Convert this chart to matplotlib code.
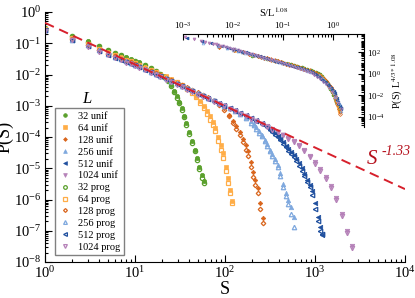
import numpy as np
import matplotlib
matplotlib.use("Agg")
import matplotlib.pyplot as plt
from matplotlib.ticker import LogLocator, NullFormatter, FixedLocator

plt.rcParams['font.family'] = ['Liberation Serif', 'DejaVu Serif']
plt.rcParams['mathtext.fontset'] = 'stix'

# ---------------- data ----------------
L_values = [32, 64, 128, 256, 512, 1024]

S32 = [1,2,3,4,5,6,7,8,9,10,11,13,15,17,19,21,23,25,27,29,31,33,35,37,40,43,46,49,52,55,58]
logP32_unif = [-0.50,-0.77,-0.93,-1.09,-1.21,-1.30,-1.38,-1.45,-1.51,-1.56,-1.61,-1.70,-1.79,-1.88,-1.97,
               -2.06,-2.18,-2.34,-2.52,-2.70,-2.88,-3.08,-3.32,-3.56,-3.84,-4.12,-4.40,-4.66,-4.95,-5.22,-5.42]
logP32_prog = [-0.52,-0.78,-0.95,-1.10,-1.22,-1.31,-1.39,-1.46,-1.52,-1.57,-1.62,-1.71,-1.80,-1.89,-1.98,
               -2.08,-2.21,-2.37,-2.55,-2.74,-2.92,-3.13,-3.37,-3.62,-3.90,-4.18,-4.46,-4.74,-5.02,-5.30,-5.46]

S64 = [1,2,3,4,5,6,7,8,9,10,11,13,15,17,19,22,25,29,33,38,43,48,53,58,63,68,73,78,84,90,96,102,108,114,120]
logP64_unif = [-0.53,-0.82,-1.01,-1.17,-1.29,-1.38,-1.45,-1.52,-1.57,-1.63,-1.68,-1.77,-1.85,-1.92,-1.98,
               -2.06,-2.14,-2.23,-2.32,-2.42,-2.53,-2.68,-2.84,-3.00,-3.17,-3.34,-3.52,-3.70,-4.00,-4.26,
               -4.52,-4.95,-5.32,-5.68,-6.05]
logP64_prog = [-0.54,-0.83,-1.02,-1.18,-1.30,-1.39,-1.46,-1.53,-1.58,-1.64,-1.69,-1.78,-1.86,-1.93,-2.00,
               -2.08,-2.16,-2.25,-2.35,-2.46,-2.58,-2.73,-2.90,-3.07,-3.25,-3.44,-3.62,-3.82,-4.12,-4.40,
               -4.68,-5.10,-5.48,-5.80,-6.12]

S128 = [1,2,3,4,5,6,7,8,9,10,11,13,15,17,19,22,25,29,33,38,43,50,57,65,75,86,98,
        110,122,134,146,158,170,182,194,206,218,232,246,262]
logP128_unif = [-0.56,-0.85,-1.04,-1.20,-1.32,-1.41,-1.48,-1.55,-1.60,-1.66,-1.71,-1.80,-1.88,-1.95,-2.01,
                -2.09,-2.17,-2.25,-2.33,-2.41,-2.48,-2.57,-2.65,-2.73,-2.83,-2.94,-3.08,
                -3.28,-3.48,-3.66,-3.84,-4.06,-4.26,-4.46,-4.80,-5.12,-5.38,-5.62,-6.10,-6.60]
logP128_prog = [-0.57,-0.86,-1.05,-1.21,-1.33,-1.42,-1.49,-1.56,-1.61,-1.67,-1.72,-1.81,-1.89,-1.96,-2.02,
                -2.10,-2.18,-2.26,-2.34,-2.42,-2.49,-2.58,-2.66,-2.75,-2.86,-2.98,-3.13,
                -3.34,-3.55,-3.74,-3.94,-4.16,-4.40,-4.62,-4.95,-5.28,-5.55,-5.80,-6.30,-6.75]

S256 = [1,2,3,4,5,6,7,8,9,10,11,13,15,17,19,22,25,29,33,38,43,50,57,65,75,86,98,
        113,129,148,170,195,210,223,240,256,275,293,315,336,360,385,412,441,472,505,540,579]
logP256_unif = [-0.57,-0.87,-1.06,-1.22,-1.34,-1.43,-1.50,-1.57,-1.62,-1.68,-1.73,-1.82,-1.90,-1.97,-2.03,
                -2.11,-2.19,-2.27,-2.35,-2.43,-2.50,-2.59,-2.66,-2.74,-2.82,-2.90,-2.98,
                -3.06,-3.15,-3.24,-3.36,-3.50,-3.58,-3.68,-3.80,-3.93,-4.08,-4.22,
                -4.40,-4.55,-4.70,-4.88,-5.15,-5.50,-5.80,-6.00,-6.25,-6.55]
logP256_prog = [-0.58,-0.88,-1.07,-1.23,-1.35,-1.44,-1.51,-1.58,-1.63,-1.69,-1.74,-1.83,-1.91,-1.98,-2.04,
                -2.12,-2.20,-2.28,-2.36,-2.44,-2.51,-2.60,-2.67,-2.75,-2.83,-2.91,-3.00,
                -3.08,-3.17,-3.27,-3.40,-3.54,-3.62,-3.73,-3.86,-3.98,-4.14,-4.28,
                -4.46,-4.62,-4.78,-4.96,-5.25,-5.60,-5.90,-6.15,-6.45,-6.88]

S512 = [1,2,3,4,5,6,7,8,9,10,11,13,15,17,19,22,25,29,33,38,43,50,57,65,75,86,98,
        113,129,148,170,195,223,256,293,316,336,360,385,412,441,472,505,540,579,
        620,663,710,760,815,870,930,1000,1070,1140,1210]
logP512_unif = [-0.58,-0.88,-1.08,-1.24,-1.36,-1.45,-1.52,-1.59,-1.64,-1.70,-1.75,-1.84,-1.92,-1.99,-2.05,
                -2.13,-2.21,-2.29,-2.37,-2.45,-2.52,-2.61,-2.68,-2.76,-2.84,-2.92,-2.99,
                -3.07,-3.15,-3.23,-3.31,-3.39,-3.47,-3.56,-3.66,-3.73,-3.80,-3.88,-3.96,-4.06,-4.17,
                -4.28,-4.38,-4.48,-4.58,-4.70,-4.84,-5.00,-5.18,-5.36,-5.52,-5.72,-6.12,-6.55,-6.88,-7.14]
logP512_prog = [-0.59,-0.89,-1.09,-1.25,-1.37,-1.46,-1.53,-1.60,-1.65,-1.71,-1.76,-1.85,-1.93,-2.00,-2.06,
                -2.14,-2.22,-2.30,-2.38,-2.46,-2.53,-2.62,-2.69,-2.77,-2.85,-2.93,-3.00,
                -3.08,-3.16,-3.24,-3.32,-3.40,-3.48,-3.58,-3.68,-3.76,-3.83,-3.92,-4.00,-4.10,-4.22,
                -4.33,-4.44,-4.54,-4.64,-4.76,-4.92,-5.08,-5.26,-5.44,-5.60,-5.85,-6.30,-6.70,-7.00,-7.10]

S1024 = [1,2,3,4,5,6,7,8,9,10,11,13,15,17,19,22,25,29,33,38,43,50,57,65,75,86,98,
         113,129,148,170,195,223,256,293,336,385,441,505,579,663,760,870,
         1000,1140,1310,1500,1720,1970,2260,2590]
logP1024_unif = [-0.60,-0.90,-1.10,-1.26,-1.38,-1.47,-1.54,-1.61,-1.66,-1.72,-1.77,-1.86,-1.94,-2.01,-2.07,
                 -2.15,-2.23,-2.31,-2.39,-2.47,-2.54,-2.63,-2.70,-2.78,-2.86,-2.94,-3.01,
                 -3.09,-3.17,-3.25,-3.33,-3.41,-3.49,-3.57,-3.65,-3.74,-3.83,-3.93,-4.03,-4.14,-4.27,-4.42,-4.60,
                 -4.80,-5.02,-5.27,-5.58,-5.95,-6.45,-7.00,-7.50]
logP1024_prog = [-0.61,-0.91,-1.11,-1.27,-1.39,-1.48,-1.55,-1.62,-1.67,-1.73,-1.78,-1.87,-1.95,-2.02,-2.08,
                 -2.16,-2.24,-2.32,-2.40,-2.48,-2.55,-2.64,-2.71,-2.79,-2.87,-2.95,-3.02,
                 -3.10,-3.18,-3.26,-3.34,-3.42,-3.50,-3.58,-3.67,-3.76,-3.85,-3.95,-4.06,-4.17,-4.30,-4.46,-4.64,
                 -4.85,-5.08,-5.33,-5.64,-6.02,-6.52,-7.08,-7.56]

S_lists = [S32, S64, S128, S256, S512, S1024]
unif_lists = [logP32_unif, logP64_unif, logP128_unif, logP256_unif, logP512_unif, logP1024_unif]
prog_lists = [logP32_prog, logP64_prog, logP128_prog, logP256_prog, logP512_prog, logP1024_prog]

fit_amplitude = 0.45
fit_exponent = -1.33
D_exp = 1.08
tau = 4.0 / 3.0

# ---------------- style ----------------
colors = ['#5aa02c', '#ffad47', '#d9651c', '#7ea8de', '#1f4f9e', '#b581b8']
markers = ['o', 's', 'D', '^', '<', 'v']
msizes = [3.1, 2.9, 2.3, 3.2, 3.2, 3.2]

fig = plt.figure(figsize=(4.15, 2.98), dpi=100)
ax = fig.add_axes([45/415, 1-262/298, 360/415, 250/298])
ax.set_xscale('log')
ax.set_yscale('log')

handles = []
for i, L in enumerate(L_values):
    S = np.array(S_lists[i], dtype=float)
    h, = ax.plot(S, 10**np.array(unif_lists[i]), ls='none', marker=markers[i], ms=msizes[i],
                 mfc=colors[i], mec=colors[i], mew=0.5, label=f'{L} unif')
    handles.append(h)
for i, L in enumerate(L_values):
    S = np.array(S_lists[i], dtype=float)
    h, = ax.plot(S, 10**np.array(prog_lists[i]), ls='none', marker=markers[i], ms=msizes[i],
                 mfc='none', mec=colors[i], mew=0.9, label=f'{L} prog')
    handles.append(h)

Sfit = np.array([1.0, 1e4])
ax.plot(Sfit, fit_amplitude * Sfit**fit_exponent, ls=(0, (5, 3)), color='#d7202c', lw=1.4, zorder=5)
tx, ty = 10**3.58, 10**-4.88
ax.text(tx, ty, 'S', color='#b5101c', fontsize=15, style='italic',
        ha='left', va='baseline', clip_on=False)
ax.annotate('-1.33', xy=(tx, ty), xycoords='data', xytext=(10, 7), textcoords='offset points',
            color='#b5101c', fontsize=10, style='italic', ha='left', va='baseline',
            annotation_clip=False)

ax.set_xlim(1, 1e4)
ax.set_ylim(1e-8, 1)
ax.spines['top'].set_visible(False)
ax.spines['right'].set_visible(False)
ax.xaxis.set_major_locator(LogLocator(base=10, numticks=10))
ax.yaxis.set_major_locator(LogLocator(base=10, numticks=12))
ax.xaxis.set_minor_locator(LogLocator(base=10, subs=np.arange(2, 10), numticks=20))
ax.yaxis.set_minor_locator(LogLocator(base=10, subs=np.arange(2, 10), numticks=20))
ax.xaxis.set_minor_formatter(NullFormatter())
ax.yaxis.set_minor_formatter(NullFormatter())
ax.tick_params(which='both', direction='in', top=False, right=False, labelsize=10.5, width=0.8)
ax.tick_params(which='major', length=5, pad=2.5)
ax.tick_params(which='minor', length=2.5)
ax.set_xlabel('S', fontsize=13, labelpad=0)
ax.set_ylabel('P(S)', fontsize=13)
ax.yaxis.set_label_coords(-0.087, 0.5)

leg = ax.legend(handles=handles, loc='upper left', bbox_to_anchor=(55/415, 1-108/298),
                bbox_transform=fig.transFigure, borderaxespad=0, fontsize=7.5, frameon=True,
                fancybox=False, edgecolor='#808080', framealpha=1, handlelength=1.3,
                handletextpad=0.6, labelspacing=0.25, borderpad=0.35, markerscale=0.85)
leg.get_frame().set_linewidth(1.0)
fig.text(87/415, 1-99/298, 'L', fontsize=12, style='italic', ha='center', va='center')

# ---------------- inset ----------------
ax2 = fig.add_axes([183/415, 1-127/298, (364-183)/415, (127-34)/298])
ax2.patch.set_alpha(0)
ax2.set_xscale('log')
ax2.set_yscale('log')
for i, L in enumerate(L_values):
    S = np.array(S_lists[i], dtype=float)
    x = S / L**D_exp
    ax2.plot(x, 10**np.array(unif_lists[i]) * L**(tau*D_exp), ls='none', marker=markers[i], ms=2.0,
             mfc=colors[i], mec=colors[i], mew=0.3)
for i, L in enumerate(L_values):
    S = np.array(S_lists[i], dtype=float)
    x = S / L**D_exp
    ax2.plot(x, 10**np.array(prog_lists[i]) * L**(tau*D_exp), ls='none', marker=markers[i], ms=2.0,
             mfc='none', mec=colors[i], mew=0.5)
ax2.set_xlim(1e-3, 10**0.62)
ax2.set_ylim(10**-4.93, 10**3.68)
ax2.spines['left'].set_visible(False)
ax2.spines['bottom'].set_visible(False)
ax2.xaxis.tick_top()
ax2.yaxis.tick_right()
ax2.xaxis.set_label_position('top')
ax2.yaxis.set_label_position('right')
ax2.xaxis.set_major_locator(LogLocator(base=10, numticks=10))
ax2.xaxis.set_minor_locator(LogLocator(base=10, subs=np.arange(2, 10), numticks=20))
ax2.xaxis.set_minor_formatter(NullFormatter())
ax2.yaxis.set_major_locator(FixedLocator([1e-4, 1e-2, 1e0, 1e2]))
ax2.yaxis.set_minor_locator(LogLocator(base=10, subs=np.arange(1, 10), numticks=30))
ax2.yaxis.set_minor_formatter(NullFormatter())
ax2.tick_params(which='both', direction='in', labelsize=6.5, width=0.8, pad=2,
                top=True, bottom=False, left=False, right=True)
ax2.tick_params(which='major', length=4)
ax2.tick_params(which='minor', length=2)
ax2.set_xlabel(r'S/L$^{1.08}$', fontsize=7.5, labelpad=2)
ax2.set_ylabel(r'P(S) L$^{4/3*1.08}$', fontsize=7.5, labelpad=4)

fig.savefig('out.png', dpi=100)
